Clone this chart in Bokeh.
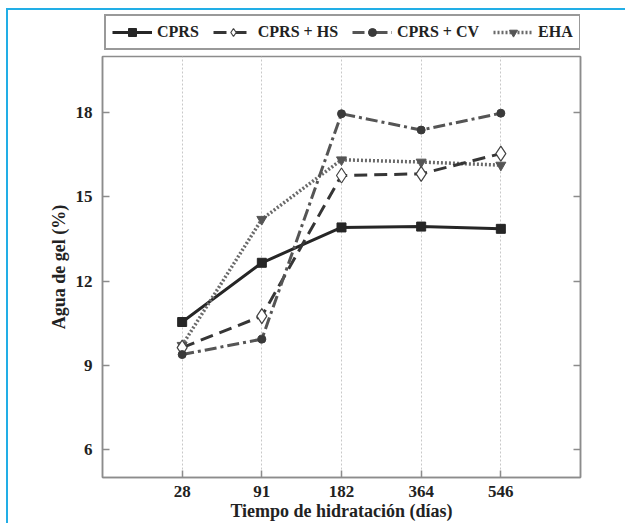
from bokeh.plotting import figure
from bokeh.layouts import column
from bokeh.models import (LinearAxis, FixedTicker, Range1d, Legend, LegendItem,
                          ColumnDataSource)
from bokeh.embed import file_html
from bokeh.resources import INLINE

days = ["28", "91", "182", "364", "546"]
cprs = [10.54, 12.65, 13.91, 13.94, 13.86]
cprs_hs = [9.63, 10.75, 15.76, 15.82, 16.54]
cprs_cv = [9.38, 9.93, 17.96, 17.38, 17.98]
eha = [9.71, 14.20, 16.32, 16.24, 16.13]
y_ticks = [6, 9, 12, 15, 18]
names = ["CPRS", "CPRS + HS", "CPRS + CV", "EHA"]

xpos = list(range(1, len(days) + 1))
FONT = "Liberation Serif"
AX = "#8c8c8c"
CYAN = "#22aee6"

# series styles: (line kwargs, marker kwargs)
styles = [
    (dict(line_color="#262626", line_width=3),
     dict(marker="square", size=9, fill_color="#262626", line_color="#262626")),
    (dict(line_color="#363636", line_width=3, line_dash="13 7"),
     dict(marker="diamond", size=15, fill_color="white", line_color="#444444",
          line_width=1.2)),
    (dict(line_color="#555555", line_width=3, line_dash="12 4 3 4"),
     dict(marker="circle", size=8, fill_color="#3a3a3a", line_color="#3a3a3a")),
    (dict(line_color="#6a6a6a", line_width=3.5, line_dash="2 2"),
     dict(marker="inverted_triangle", size=10, fill_color="#555555",
          line_color="#555555")),
]

# ---------------- main plot ----------------
p = figure(width=617, height=470, output_backend="svg", toolbar_location=None,
           x_range=Range1d(0, len(days) + 1), y_range=Range1d(5, 20),
           min_border_left=94, min_border_right=45, min_border_top=3,
           min_border_bottom=46)
p.background_fill_color = "white"
p.border_fill_color = "white"
p.outline_line_color = AX
p.outline_line_width = 1.5

p.ygrid.visible = False
p.xgrid.ticker = FixedTicker(ticks=xpos)
p.xgrid.grid_line_color = "#c8c8c8"
p.xgrid.grid_line_dash = "2 2"
p.xgrid.grid_line_width = 1

def style_axis(ax, labels=True):
    ax.axis_line_color = AX
    ax.axis_line_width = 1.5
    ax.major_tick_line_color = AX
    ax.major_tick_line_width = 1.5
    ax.major_tick_in = 7
    ax.major_tick_out = 0
    ax.minor_tick_line_color = None
    ax.major_label_text_font = FONT
    ax.major_label_text_font_style = "bold"
    ax.major_label_text_font_size = "17px"
    ax.major_label_text_color = "#222222"
    ax.axis_label_text_font = FONT
    ax.axis_label_text_font_style = "bold"
    ax.axis_label_text_font_size = "18px"
    ax.axis_label_text_color = "#222222"
    if not labels:
        ax.major_label_text_color = None

xa = p.xaxis[0]
xa.ticker = FixedTicker(ticks=xpos)
xa.major_label_overrides = {i + 1: d for i, d in enumerate(days)}
xa.axis_label = "Tiempo de hidratación (días)"
style_axis(xa)
xa.major_label_standoff = 8
xa.axis_label_standoff = 1

ya = p.yaxis[0]
ya.ticker = FixedTicker(ticks=y_ticks)
ya.axis_label = "Agua de gel (%)"
style_axis(ya)
ya.major_label_standoff = 10
ya.axis_label_standoff = 4

ra = LinearAxis(ticker=FixedTicker(ticks=y_ticks))
style_axis(ra, labels=False)
p.add_layout(ra, "right")

src = ColumnDataSource(dict(x=xpos, cprs=cprs, hs=cprs_hs, cv=cprs_cv, eha=eha))
cols = ["cprs", "hs", "cv", "eha"]
draw_order = [0, 3, 1, 2]
for i in draw_order:
    lk, mk = styles[i]
    p.line("x", cols[i], source=src, **lk)
    p.scatter("x", cols[i], source=src, **mk)

# ---------------- legend strip (frame aligned with the main frame) ----------------
lg = figure(width=617, height=43, output_backend="svg", toolbar_location=None,
            x_range=Range1d(0, 1), y_range=Range1d(0, 1),
            x_axis_location=None, y_axis_location=None,
            min_border_left=94, min_border_right=45, min_border_top=0,
            min_border_bottom=0)
lg.grid.visible = False
lg.outline_line_color = None
lg.background_fill_color = "white"
lg.border_fill_color = "white"

items = []
for i, name in enumerate(names):
    lk, mk = styles[i]
    # same series data; it lies outside this strip's ranges, only the legend shows
    r1 = lg.line("x", cols[i], source=src, **lk)
    r2 = lg.scatter("x", cols[i], source=src, **mk)
    items.append(LegendItem(label=name, renderers=[r1, r2]))

legend = Legend(items=items, orientation="horizontal", location=(2, 3))
legend.label_text_font = FONT
legend.label_text_font_style = "bold"
legend.label_text_font_size = "16px"
legend.label_text_color = "#222222"
legend.border_line_color = "#333333"
legend.border_line_width = 2
legend.glyph_width = 40
legend.label_standoff = 5
legend.spacing = 14
legend.padding = 6
legend.margin = 0
legend.background_fill_alpha = 1
lg.add_layout(legend, "center")

layout = column(lg, p, spacing=0)
layout.styles = {"margin-left": "6px", "margin-top": "8px",
                 "border-top": f"2px solid {CYAN}",
                 "border-left": f"2px solid {CYAN}"}

open("out.html", "w").write(file_html(layout, INLINE))
